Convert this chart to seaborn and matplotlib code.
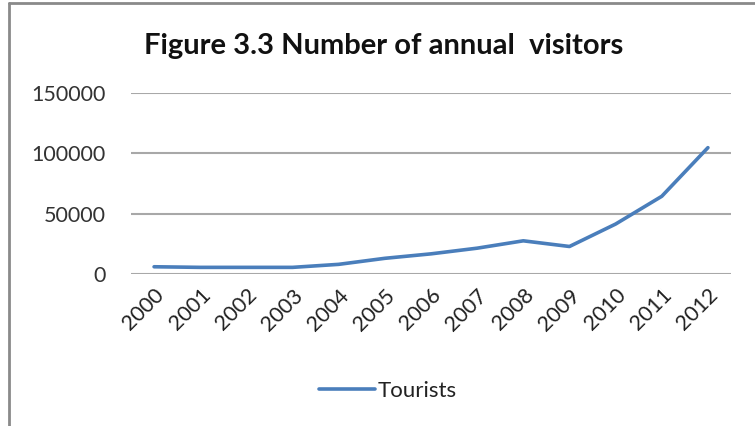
import matplotlib.pyplot as plt
import matplotlib.lines as mlines
import pandas as pd
import seaborn as sns

years = ['2000', '2001', '2002', '2003', '2004', '2005', '2006',
         '2007', '2008', '2009', '2010', '2011', '2012']
tourists = [6000, 5500, 5500, 5500, 8000, 13000, 16700,
            21400, 27500, 22800, 41400, 64400, 104700]
y_ticks = [0, 50000, 100000, 150000]

df = pd.DataFrame({'Year': years, 'Tourists': tourists})

sns.set_style('white')
plt.rcParams['font.family'] = ['Lato', 'DejaVu Sans']

fig = plt.figure(figsize=(7.55, 4.26), dpi=100)
ax = fig.add_axes([131 / 755, (426 - 274) / 426, 600 / 755, (274 - 93) / 426])

x = list(range(len(years)))
sns.lineplot(x=x, y=df['Tourists'], ax=ax, color='#4A7EBB', linewidth=2.6,
             label='Tourists')

ax.set_xlim(-0.5, len(years) - 0.5)
ax.set_ylim(0, 150000)
ax.set_yticks(y_ticks)
ax.set_yticklabels([str(v) for v in y_ticks], fontsize=15.5, color='#333333')
ax.set_xticks(x)
ax.set_xticklabels(years, rotation=45, ha='right', rotation_mode='anchor',
                   fontsize=15.5, color='#222222')
ax.tick_params(axis='y', length=0, pad=18)
ax.tick_params(axis='x', length=0, pad=8)
ax.grid(axis='y', color='#a8a8a8', linewidth=1.5)
ax.set_axisbelow(True)
for s in ax.spines.values():
    s.set_visible(False)
ax.set_xlabel('')
ax.set_ylabel('')

ax.legend_.remove()
handle = mlines.Line2D([], [], color='#4A7EBB', linewidth=2.6)
fig.legend([handle], ['Tourists'], loc='center', bbox_to_anchor=(388 / 755, 1 - 391 / 426),
           frameon=False, fontsize=16, handlelength=2.5, handletextpad=0.15,
           labelcolor='#222222')

fig.text(384 / 755, 1 - 46 / 426, 'Figure 3.3 Number of annual  visitors',
         ha='center', va='center', fontsize=21, fontweight='bold', color='#111111')

# chart border (left and top visible)
fig.add_artist(mlines.Line2D([9 / 755, 9 / 755], [0, 1 - 3 / 426],
                             color='#8a8a8a', linewidth=2))
fig.add_artist(mlines.Line2D([9 / 755, 1], [1 - 3 / 426, 1 - 3 / 426],
                             color='#8a8a8a', linewidth=2))

fig.savefig('out.png', dpi=100)
